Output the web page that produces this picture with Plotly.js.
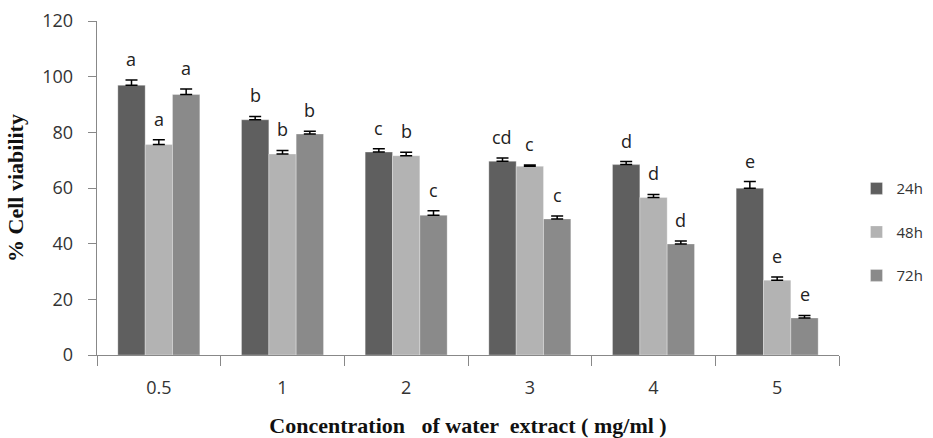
<!DOCTYPE html>
<html>
<head>
<meta charset="utf-8">
<script src="https://cdn.plot.ly/plotly-3.0.1.min.js"></script>
<style>html,body{margin:0;padding:0;background:#fff;}#chart{width:933px;height:438px;}</style>
</head>
<body>
<div id="chart"></div>
<script>
const categories = ["0.5", "1", "2", "3", "4", "5"];
const seriesNames = ["24h", "48h", "72h"];
const values24 = [96.9, 84.5, 72.9, 69.6, 68.4, 59.9];
const values48 = [75.6, 72.2, 71.6, 67.8, 56.6, 26.9];
const values72 = [93.6, 79.4, 50.2, 48.9, 39.9, 13.3];
const err24 = [1.9, 1.2, 1.2, 1.2, 1.1, 2.4];
const err48 = [1.7, 1.3, 1.2, 0.5, 1.1, 1.1];
const err72 = [2.0, 1.0, 1.6, 1.0, 1.1, 0.9];
const letters24 = ["a", "b", "c", "cd", "d", "e"];
const letters48 = ["a", "b", "b", "c", "d", "e"];
const letters72 = ["a", "b", "c", "c", "d", "e"];
const yTickVals = [0, 20, 40, 60, 80, 100, 120];

const colors = ["#5f5f5f", "#b3b3b3", "#8a8a8a"];
const allVals = [values24, values48, values72];
const allErr = [err24, err48, err72];
const allLetters = [letters24, letters48, letters72];

const sansFont = "Open Sans, sans-serif";
const serifFont = "Liberation Serif, Times New Roman, serif";
const tickFont = {family: sansFont, size: 18, color: "#333"};

const traces = allVals.map((v, i) => ({
  type: "bar",
  name: seriesNames[i],
  x: categories,
  y: v,
  legendgroup: "g" + i,
  marker: {color: colors[i], line: {color: "rgba(255,255,255,0.5)", width: 0.6}},
  error_y: {type: "data", array: allErr[i], arrayminus: allErr[i].map(() => 0), symmetric: false,
            color: "#000", thickness: 1.5, width: 6}
}));

const plotW = 933 - 97 - 94;
const bargap = 0.337;
const barW = plotW / categories.length * (1 - bargap) / 3;

const annotations = [];
allVals.forEach((v, i) => {
  v.forEach((val, j) => {
    annotations.push({
      x: j, y: val + allErr[i][j], xref: "x", yref: "y",
      text: allLetters[i][j], showarrow: false,
      xshift: (i - 1) * barW, yanchor: "bottom", yshift: 7,
      font: {family: sansFont, size: 18, color: "#222"}
    });
  });
});

const layout = {
  width: 933, height: 438,
  margin: {l: 97, r: 94, t: 21, b: 83},
  paper_bgcolor: "#fff", plot_bgcolor: "#fff",
  barmode: "group", bargap: bargap, bargroupgap: 0,
  showlegend: true,
  legend: {xref: "container", yref: "container", x: 0.918, y: 0.47, xanchor: "left", yanchor: "middle",
           font: {family: sansFont, size: 15, color: "#333"},
           tracegroupgap: 21, itemwidth: 30},
  xaxis: {
    type: "category", tickson: "boundaries", ticks: "outside", ticklen: 10, tickcolor: "#888",
    showline: true, linecolor: "#888", linewidth: 1.3, showgrid: false, zeroline: false,
    tickfont: tickFont, ticklabelstandoff: 16,
    title: {text: "Concentration &nbsp;&nbsp;of water &nbsp;extract ( mg/ml )",
            font: {family: serifFont, size: 22, color: "#111", weight: "bold"},
            standoff: 22}
  },
  yaxis: {
    range: [0, 120], tickvals: yTickVals, ticks: "outside", ticklen: 8, tickcolor: "#888",
    showline: true, linecolor: "#888", linewidth: 1.3, showgrid: false, zeroline: false,
    tickfont: tickFont, ticklabelstandoff: 11,
    title: {text: "% Cell viability",
            font: {family: serifFont, size: 22, color: "#111", weight: "bold"},
            standoff: 12}
  },
  annotations: annotations
};

Plotly.newPlot("chart", traces, layout, {displayModeBar: false, staticPlot: true});
</script>
</body>
</html>
